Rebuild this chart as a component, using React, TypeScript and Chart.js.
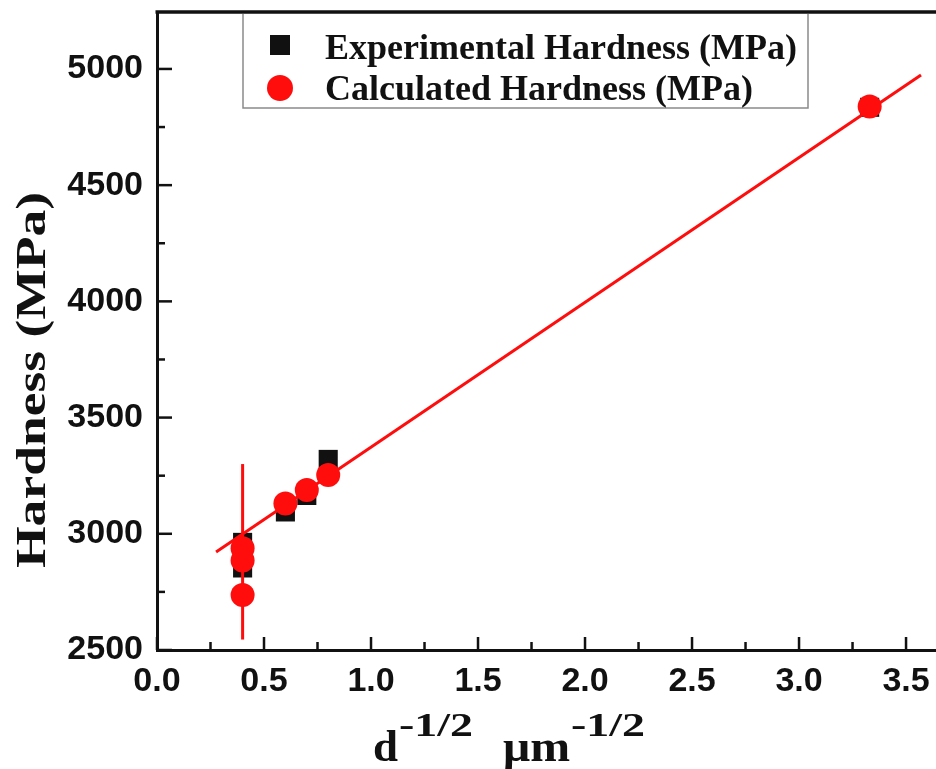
import React, { useEffect, useRef } from 'react';
import { Chart, registerables } from 'chart.js';
Chart.register(...registerables);

const expX = [0.4, 0.4, 0.6, 0.7, 0.8, 3.33];
const expY = [2963, 2853, 3094, 3165, 3320, 4835];
const calcX = [0.4, 0.4, 0.4, 0.6, 0.7, 0.8, 3.33];
const calcY = [2938, 2885, 2737, 3130, 3188, 3253, 4838];
const fitX = [0.276, 3.57];
const fitY = [2922, 4974];
const errX = [0.4, 0.4];
const errY = [2545, 3300];
const xTicks = [0, 0.5, 1, 1.5, 2, 2.5, 3, 3.5];
const yTicks = [2500, 3000, 3500, 4000, 4500, 5000];
const legendLabels = ['Experimental Hardness (MPa)', 'Calculated Hardness (MPa)'];
const yTitle = 'Hardness (MPa)';
const xTitleParts = ['d', '-1/2', 'μm', '-1/2'];

const RED = '#ff0d0d';
const BLACK = '#111111';
const SERIF = '"Liberation Serif", "Times New Roman", serif';
const SANS = '"Liberation Sans", Arial, sans-serif';

const zip = (xs: number[], ys: number[]) => xs.map((x, i) => ({ x, y: ys[i] }));

function drawScaled(ctx: CanvasRenderingContext2D, text: string, x: number, y: number, font: string, targetW: number) {
  ctx.save();
  ctx.font = font;
  const w = ctx.measureText(text).width;
  const s = targetW / w;
  ctx.translate(x, y);
  ctx.scale(s, 1);
  ctx.fillText(text, 0, 0);
  ctx.restore();
}

const decorPlugin = {
  id: 'decor',
  afterDraw(chart: any) {
    const { ctx, chartArea: a, scales } = chart;
    const x = scales.x, y = scales.y;
    ctx.save();
    ctx.strokeStyle = BLACK;
    // inward ticks
    ctx.lineWidth = 2.5;
    for (let i = 0; i * 0.25 <= x.max + 1e-9; i++) {
      const px = x.getPixelForValue(i * 0.25);
      const len = i % 2 === 0 ? 13 : 8;
      ctx.beginPath();
      ctx.moveTo(px, a.bottom);
      ctx.lineTo(px, a.bottom - len);
      ctx.stroke();
    }
    for (let i = 0; y.min + i * 250 <= y.max + 1e-9; i++) {
      const py = y.getPixelForValue(y.min + i * 250);
      const len = i % 2 === 0 ? 15 : 8;
      ctx.beginPath();
      ctx.moveTo(a.left, py);
      ctx.lineTo(a.left + len, py);
      ctx.stroke();
    }
    // top frame line
    ctx.lineWidth = 3.5;
    ctx.beginPath();
    ctx.moveTo(a.left - 1.5, a.top);
    ctx.lineTo(a.right, a.top);
    ctx.stroke();

    // legend
    ctx.strokeStyle = '#8a8a8a';
    ctx.lineWidth = 1.5;
    ctx.beginPath();
    ctx.moveTo(243, a.top + 2);
    ctx.lineTo(243, 108);
    ctx.lineTo(808, 108);
    ctx.lineTo(808, a.top + 2);
    ctx.stroke();
    ctx.fillStyle = BLACK;
    ctx.fillRect(280 - 10, 45 - 10, 20, 20);
    ctx.fillStyle = RED;
    ctx.beginPath();
    ctx.arc(280, 88, 13, 0, Math.PI * 2);
    ctx.fill();
    ctx.fillStyle = BLACK;
    ctx.font = `bold 36px ${SERIF}`;
    ctx.textBaseline = 'alphabetic';
    ctx.textAlign = 'left';
    ctx.fillText(legendLabels[0], 325, 59);
    ctx.fillText(legendLabels[1], 325, 100);

    // y title
    ctx.save();
    ctx.translate(45, 380);
    ctx.rotate(-Math.PI / 2);
    ctx.font = `bold 43px ${SERIF}`;
    const tw = ctx.measureText(yTitle).width;
    const s = 376 / tw;
    ctx.scale(s, 1);
    ctx.textAlign = 'center';
    ctx.textBaseline = 'alphabetic';
    ctx.fillText(yTitle, 0, 0);
    ctx.restore();

    // x title
    ctx.textAlign = 'left';
    ctx.textBaseline = 'alphabetic';
    drawScaled(ctx, xTitleParts[0], 373, 761, `bold 44px ${SERIF}`, 25);
    drawScaled(ctx, xTitleParts[1], 399, 736, `bold 34px ${SERIF}`, 74);
    drawScaled(ctx, xTitleParts[2], 503, 761, `bold 44px ${SERIF}`, 67);
    drawScaled(ctx, xTitleParts[3], 571, 736, `bold 34px ${SERIF}`, 74);
    ctx.restore();
  },
};

export default function App() {
  const ref = useRef<HTMLCanvasElement>(null);
  useEffect(() => {
    if (!ref.current) return;
    const chart = new Chart(ref.current, {
      type: 'scatter',
      data: {
        datasets: [
          {
            label: legendLabels[1],
            data: zip(calcX, calcY),
            pointStyle: 'circle',
            pointRadius: 12,
            pointBackgroundColor: RED,
            pointBorderColor: RED,
            pointBorderWidth: 0,
            showLine: false,
          },
          {
            label: 'error',
            data: zip(errX, errY),
            showLine: true,
            borderColor: RED,
            borderWidth: 3,
            pointRadius: 0,
          },
          {
            label: 'fit',
            data: zip(fitX, fitY),
            showLine: true,
            borderColor: RED,
            borderWidth: 3,
            pointRadius: 0,
          },
          {
            label: legendLabels[0],
            data: zip(expX, expY),
            pointStyle: 'rect',
            pointRadius: 13.5,
            pointBackgroundColor: BLACK,
            pointBorderColor: BLACK,
            pointBorderWidth: 0,
            showLine: false,
          },
        ],
      } as any,
      options: {
        animation: false,
        responsive: false,
        maintainAspectRatio: false,
        layout: { autoPadding: false, padding: { top: 12, right: 0, left: 0, bottom: 0 } },
        plugins: { legend: { display: false }, tooltip: { enabled: false } },
        scales: {
          x: {
            type: 'linear',
            min: 0,
            max: 3.64,
            afterBuildTicks: (s: any) => { s.ticks = xTicks.map((v) => ({ value: v })); },
            afterFit: (s: any) => { s.height = 119; s.paddingLeft = 0; s.paddingRight = 0; },
            border: { display: true, color: BLACK, width: 3 },
            grid: { display: false, drawTicks: false },
            ticks: {
              padding: 11,
              color: BLACK,
              font: { family: SANS, size: 34, weight: 'bold' },
              callback: (v: any) => Number(v).toFixed(1),
              maxRotation: 0,
              autoSkip: false,
            },
          },
          y: {
            type: 'linear',
            min: 2500,
            max: 5245,
            afterBuildTicks: (s: any) => { s.ticks = yTicks.map((v) => ({ value: v })); },
            afterFit: (s: any) => { s.width = 157; s.paddingTop = 0; s.paddingBottom = 0; },
            border: { display: true, color: BLACK, width: 3 },
            grid: { display: false, drawTicks: false },
            ticks: {
              padding: 14,
              color: BLACK,
              font: { family: SANS, size: 34, weight: 'bold' },
              callback: (v: any) => String(v),
              autoSkip: false,
            },
          },
        },
      } as any,
      plugins: [decorPlugin],
    });
    return () => chart.destroy();
  }, []);
  return (
    <div style={{ position: 'absolute', left: 0, top: 0, width: 936, height: 769, background: '#fff' }}>
      <canvas ref={ref} width={936} height={769} style={{ display: 'block', width: 936, height: 769 }} />
    </div>
  );
}
